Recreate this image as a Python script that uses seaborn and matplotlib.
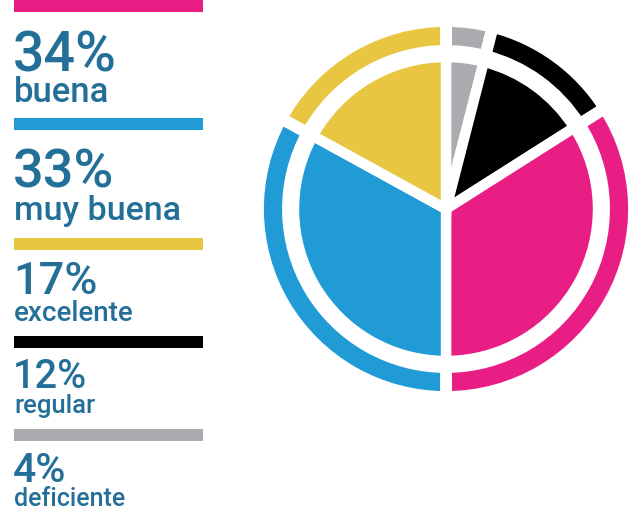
import matplotlib
matplotlib.use("Agg")
import matplotlib.pyplot as plt
from matplotlib.patches import Rectangle
import seaborn as sns

# data (clockwise from 12 o'clock)
labels = ["deficiente", "regular", "buena", "muy buena", "excelente"]
values = [4, 12, 34, 33, 17]
colors = ["#A9ABAE", "#000000", "#E91E85", "#209BD6", "#E8C642"]

# legend order (top to bottom)
legend_order = [2, 3, 4, 1, 0]

sns.set_theme(style="white")
plt.rcParams['font.family'] = ['Roboto', 'DejaVu Sans']
text_color = "#236F98"

W, H = 637, 511
fig = plt.figure(figsize=(W / 100, H / 100), dpi=100)

# pie axes, centre at (446, 209) px
cx, cy, half = 446, 209, 200
unit = 147.0
ax = fig.add_axes([(cx - half) / W, 1 - (cy + half) / H, 2 * half / W, 2 * half / H])
lim = half / unit
ax.set_aspect("equal")
ax.axis("off")

# inner pie
ax.pie(values, colors=colors, startangle=90, counterclock=False,
       radius=1.034,
       wedgeprops=dict(edgecolor="white", linewidth=7.5))
# outer ring
ax.pie(values, colors=colors, startangle=90, counterclock=False,
       radius=1.279,
       wedgeprops=dict(width=0.204, edgecolor="white", linewidth=8.5))
ax.set_xlim(-lim, lim)
ax.set_ylim(-lim, lim)

# legend blocks on the left
bar_tops = [0, 118, 238, 336, 429]
pct_base = [71, 187, 294, 388, 482]
lab_base = [102, 220, 321, 413, 506]
pct_size = [40, 39, 32.5, 28.5, 29.5]
lab_size = [25, 24.5, 20, 18.5, 18]

for k, i in enumerate(legend_order):
    top = bar_tops[k]
    fig.add_artist(Rectangle((14 / W, 1 - (top + 12) / H), 189 / W, 12 / H,
                             transform=fig.transFigure, color=colors[i], lw=0))
    fig.text(13 / W, 1 - pct_base[k] / H, f"{values[i]}%", color=text_color,
             fontsize=pct_size[k], fontweight="medium", va="baseline", ha="left")
    fig.text(14 / W, 1 - lab_base[k] / H, labels[i], color=text_color,
             fontsize=lab_size[k], fontweight="medium", va="baseline", ha="left")

fig.savefig("out.png", dpi=100, facecolor="white")
